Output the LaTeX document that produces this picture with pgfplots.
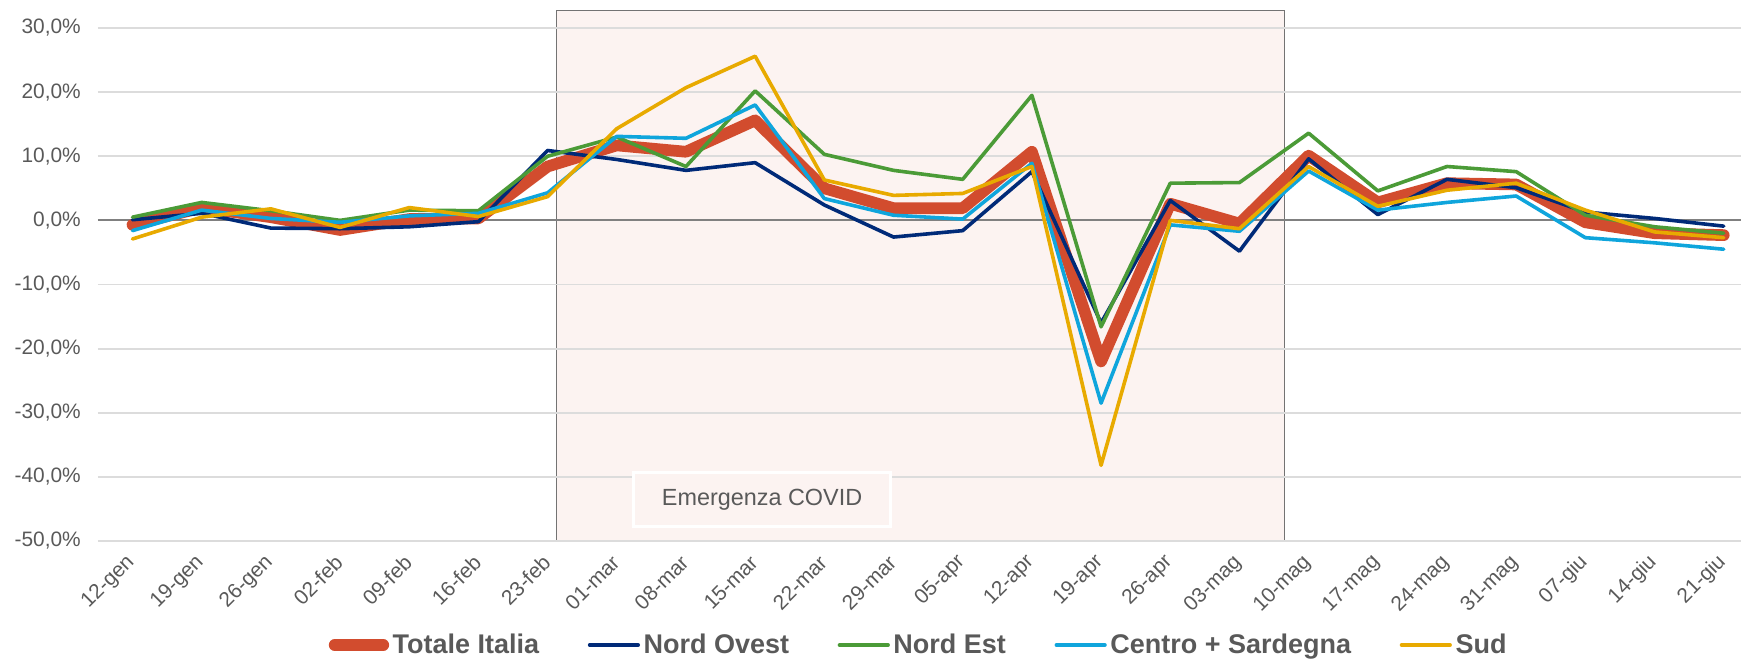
\documentclass[border=0pt]{standalone}
\usepackage{fontspec}
\setmainfont{Liberation Sans}
\usepackage{pgfplots}
\pgfplotsset{compat=1.18}
\usepackage{pgfplotstable}

\definecolor{cTot}{RGB}{210,76,46}
\definecolor{cNO}{RGB}{0,42,120}
\definecolor{cNE}{RGB}{75,155,55}
\definecolor{cCE}{RGB}{15,165,220}
\definecolor{cSud}{RGB}{232,170,0}
\definecolor{txt}{RGB}{89,89,89}
\definecolor{gridc}{RGB}{220,220,220}
\definecolor{boxfill}{RGB}{252,243,241}

% variazione settimanale, una riga per settimana
\pgfplotstableread{
x   tot    no     ne     ce     sud
0   -0.7   0.1    0.5   -1.6   -2.9
1    2.0   1.1    2.8    1.6    0.5
2    0.5  -1.2    1.5    0.3    1.8
3   -1.5  -1.3    0.0   -0.3   -1.1
4    0.2  -1.0    1.6    0.7    2.0
5    0.3  -0.2    1.5    1.1    0.6
6    8.4  10.9   10.0    4.3    3.7
7   11.7   9.5   13.0   13.1   14.3
8   10.7   7.8    8.4   12.8   20.7
9   15.6   9.0   20.2   18.0   25.6
10   5.0   2.4   10.3    3.4    6.3
11   1.9  -2.6    7.8    0.8    3.9
12   1.9  -1.6    6.4    0.2    4.2
13  10.7   7.6   19.5    8.9    8.4
14 -22.0 -16.0  -16.6  -28.5  -38.2
15   2.6   3.1    5.8   -0.7    0.0
16  -0.5  -4.8    5.9   -1.7   -1.3
17  10.1   9.6   13.6    7.7    8.4
18   2.8   0.9    4.6    1.6    2.2
19   5.8   6.4    8.4    2.8    4.7
20   5.6   5.1    7.6    3.8    5.8
21  -0.3   1.3    0.8   -2.7    1.6
22  -2.0   0.3   -1.0   -3.5   -1.8
23  -2.3  -0.9   -2.0   -4.5   -2.7
}\datatab

\begin{document}
\begin{tikzpicture}
\begin{axis}[
    set layers,
    scale only axis,
    width=913pt, height=295pt,
    xmin=-0.5, xmax=23.25,
    ymin=-50, ymax=32.8,
    xtick={0,...,23},
    xticklabels={12-gen,19-gen,26-gen,02-feb,09-feb,16-feb,23-feb,01-mar,08-mar,15-mar,22-mar,29-mar,05-apr,12-apr,19-apr,26-apr,03-mag,10-mag,17-mag,24-mag,31-mag,07-giu,14-giu,21-giu},
    ytick={-50,-40,...,30},
    yticklabel={\pgfmathprintnumber[fixed,fixed zerofill,precision=1,use comma,assume math mode=true]{\tick}\%},
    axis line style={draw=none},
    major tick length=0pt,
    ymajorgrids,
    grid style={draw=gridc, line width=1pt},
    extra y ticks={0},
    extra y tick labels={},
    extra y tick style={grid style={draw=black!50, line width=1.1pt}},
    tick label style={font=\fontsize{11.6}{13}\selectfont, text=txt},
    yticklabel style={xshift=-6pt},
    xticklabel style={anchor=east, inner sep=0pt, yshift=-10pt, xshift=-0.5pt, rotate=45},
    legend style={at={(0.5,-0.196)}, anchor=center, draw=none, fill=none,
        font=\bfseries\fontsize{15}{17}\selectfont, text=txt,
        /tikz/every even column/.append style={column sep=25pt}},
    legend columns=-1,
    legend image code/.code={\draw[#1,line cap=round] (0pt,0pt) -- (27pt,0pt);},
    every axis plot/.append style={line join=round, line cap=round},
]
\begin{pgfonlayer}{axis background}
    \draw[draw=black!55, line width=0.6pt, fill=boxfill]
        (axis cs:6.13,-50) rectangle (axis cs:16.65,32.8);
\end{pgfonlayer}

\addplot[cTot, line width=6.5pt] table[x=x,y=tot]{\datatab};
\addplot[cNO, line width=2pt] table[x=x,y=no]{\datatab};
\addplot[cNE, line width=2pt] table[x=x,y=ne]{\datatab};
\addplot[cCE, line width=2pt] table[x=x,y=ce]{\datatab};
\addplot[cSud, line width=2pt] table[x=x,y=sud]{\datatab};
\legend{Totale Italia, Nord Ovest, Nord Est, Centro + Sardegna, Sud}

\node[draw=white, line width=1.7pt, fill=boxfill, minimum width=143pt,
      minimum height=30pt, text=txt, font=\fontsize{13}{15}\selectfont]
    at (axis cs:9.1,-43.5) {Emergenza COVID};
\end{axis}
\path (current axis.south west) ++(-54.4pt,-66.1pt);
\path (current axis.north east) ++(0pt,5.6pt);
\end{tikzpicture}
\end{document}
